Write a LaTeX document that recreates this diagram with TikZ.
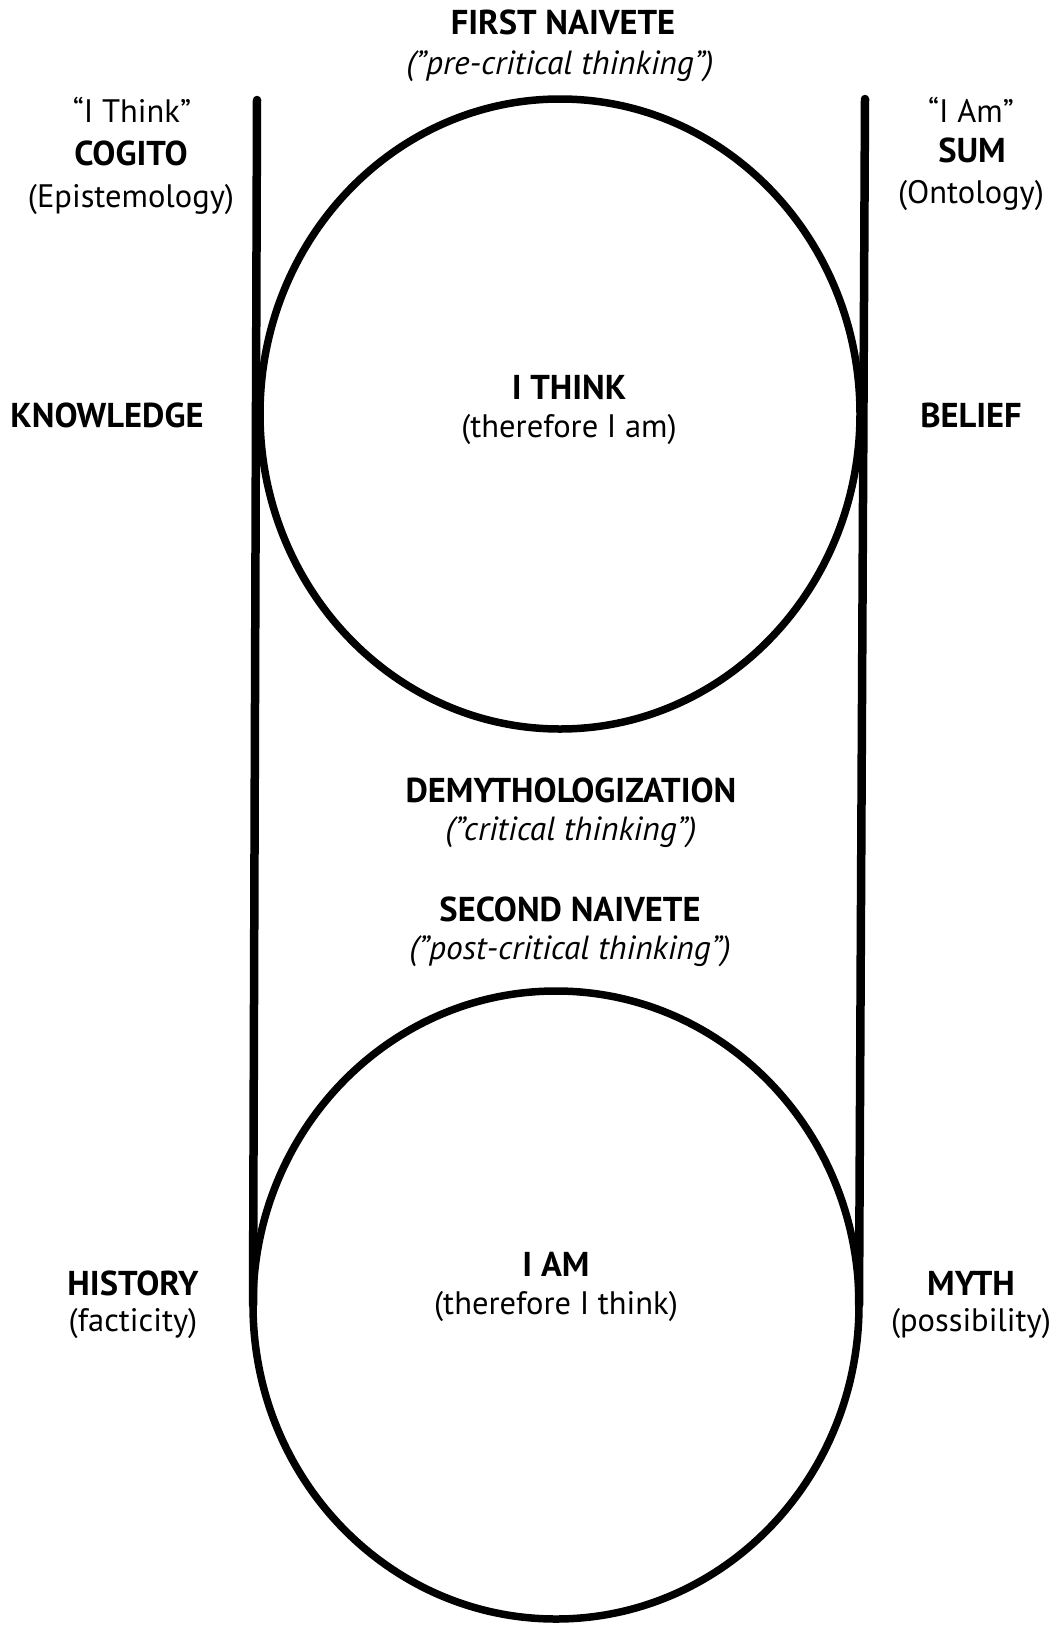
\documentclass[tikz,border=0pt]{standalone}
\usepackage{fontspec}
\setmainfont{PT Sans}
\usetikzlibrary{shapes.geometric}
\tikzset{
  ring/.style={ellipse, draw, line width=7.5pt, inner sep=0pt, outer sep=0pt},
  rail/.style={line width=8.5pt, line cap=round},
  lbl/.style={inner sep=0pt, anchor=base, font=\fontsize{32.5}{38}\selectfont},
  blbl/.style={lbl, font=\fontsize{34.5}{38}\selectfont\bfseries},
  ilbl/.style={lbl, font=\fontsize{33.5}{38}\selectfont\itshape}
}
\begin{document}
\begin{tikzpicture}[x=1pt,y=-1pt]
\useasboundingbox (0,0) rectangle (1055,1625);
% circles
\node[ring, minimum width=600pt, minimum height=630pt] (top) at (560,414) {};
\node[ring, minimum width=606pt, minimum height=628pt] (bot) at (556,1305) {};
% rails
\coordinate (lt) at (257,100);
\coordinate (rt) at (865,99);
\draw[rail] (lt) -- (bot.west);
\draw[rail] (rt) -- (bot.east);
% top labels
\node[blbl] (fn) at (563,34) {FIRST NAIVETE};
\node[ilbl] (fnp) at (560,74) {(”pre-critical thinking”)};
\node[lbl] (ithq) at (132,122) {“I Think”};
\node[blbl] (cog) at (131,165) {COGITO};
\node[lbl] (epi) at (131,207) {(Epistemology)};
\node[lbl] (iamq) at (971,122) {“I Am”};
\node[blbl] (sum) at (972,162) {SUM};
\node[lbl] (ont) at (971,203) {(Ontology)};
\node[blbl] (kn) at (107,427) {KNOWLEDGE};
\node[blbl] (bel) at (971,427) {BELIEF};
\node[blbl] (ith) at (569,399) {I THINK};
\node[lbl] (tia) at (569,437) {(therefore I am)};
\node[blbl] (dem) at (571,802) {DEMYTHOLOGIZATION};
\node[ilbl] (demp) at (571,840) {(”critical thinking”)};
\node[blbl] (sn) at (570,921) {SECOND NAIVETE};
\node[ilbl] (snp) at (570,959) {(”post-critical thinking”)};
\node[blbl] (his) at (133,1295) {HISTORY};
\node[lbl] (fac) at (133,1331) {(facticity)};
\node[blbl] (iam) at (556,1276) {I AM};
\node[lbl] (tit) at (556,1314) {(therefore I think)};
\node[blbl] (myth) at (971,1295) {MYTH};
\node[lbl] (pos) at (971,1331) {(possibility)};
\end{tikzpicture}
\end{document}
